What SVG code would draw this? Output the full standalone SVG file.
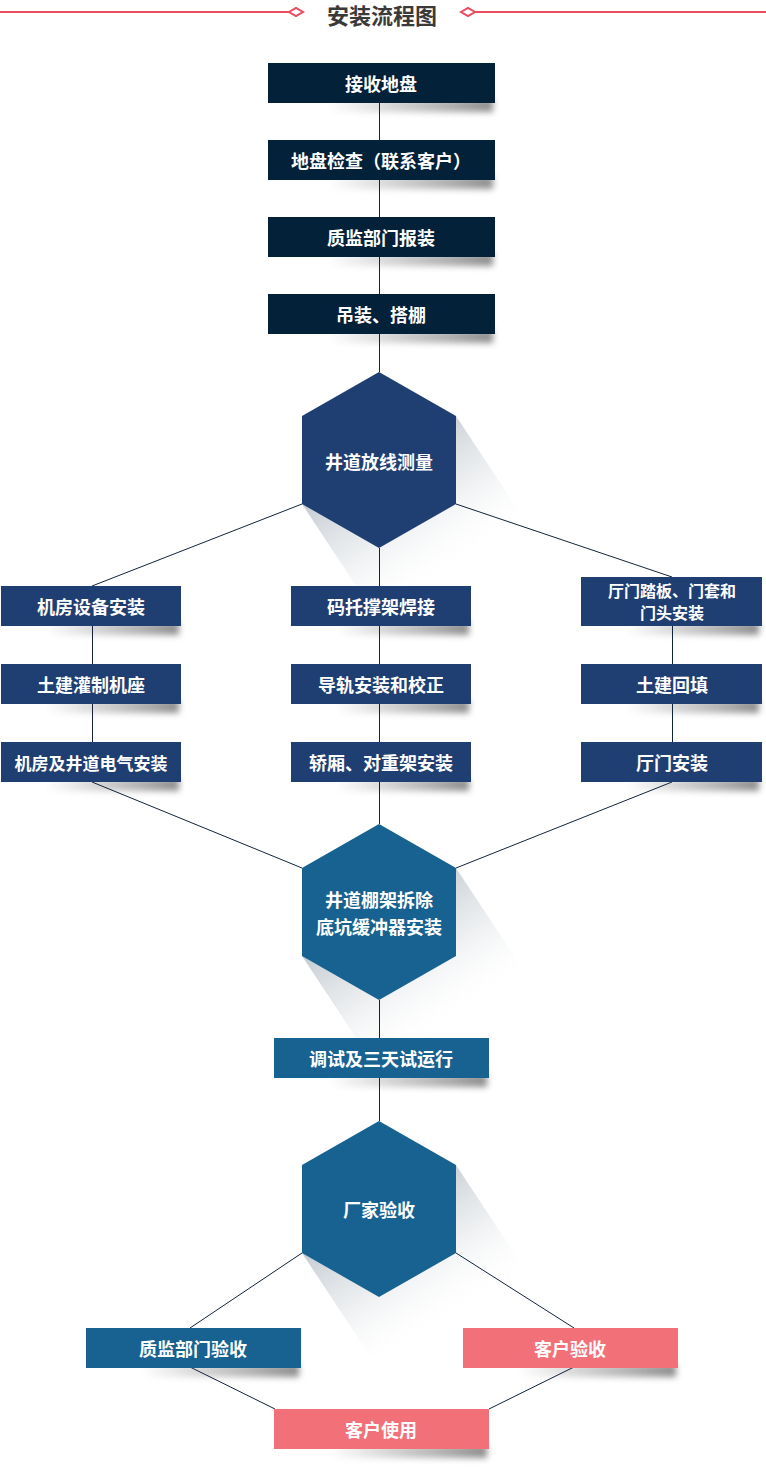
<svg xmlns="http://www.w3.org/2000/svg" xmlns:xlink="http://www.w3.org/1999/xlink" width="766" height="1469" viewBox="0 0 766 1469">
<style>
.t{font-family:"Noto Sans CJK SC","Noto Sans",sans-serif;font-weight:bold;fill:#fff;text-anchor:middle;dominant-baseline:central}
.f18{font-size:18px}.f17{font-size:17px}.f16{font-size:16px}
.dk{fill:#04213a}.nv{fill:#1f3e72}.bl{fill:#176290}.pk{fill:#f27179}
.ln{stroke:#13243a;stroke-width:1;fill:none}
.hd{stroke:#ea4b5e;stroke-width:2;fill:#fff}
</style>
<defs>
<linearGradient id="shg" x1="0" y1="0" x2="1" y2="0">
<stop offset="0" stop-color="#000" stop-opacity="0"/>
<stop offset="0.7" stop-color="#000" stop-opacity="0.3"/>
<stop offset="1" stop-color="#000" stop-opacity="0.45"/>
</linearGradient>
<filter id="blur" x="-20%" y="-80%" width="140%" height="260%"><feGaussianBlur stdDeviation="3"/></filter>
<linearGradient id="hsg" gradientUnits="userSpaceOnUse" x1="37" y1="56" x2="115" y2="174">
<stop offset="0" stop-color="#b4bdc6" stop-opacity="0.8"/>
<stop offset="0.5" stop-color="#d5dade" stop-opacity="0.45"/>
<stop offset="1" stop-color="#ffffff" stop-opacity="0"/>
</linearGradient>
<rect id="s227" x="60" y="36" width="165" height="13" fill="url(#shg)" filter="url(#blur)"/>
<rect id="s180" x="45" y="36" width="133" height="13" fill="url(#shg)" filter="url(#blur)"/>
<rect id="s215" x="55" y="36" width="158" height="13" fill="url(#shg)" filter="url(#blur)"/>
<polygon id="hexshape" points="0,0 77,44 77,132 0,176 -77,132 -77,44"/>
<polygon id="hexshadow" points="77,44 147,150 147,238 70,282 -7,238 -77,132" fill="url(#hsg)"/>
</defs>

<g id="header">
<line x1="0" y1="12" x2="289" y2="12" stroke="#ea4b5e" stroke-width="2"/>
<polygon class="hd" points="289,12 296,8 303,12 296,16"/>
<line x1="475" y1="12" x2="766" y2="12" stroke="#ea4b5e" stroke-width="2"/>
<polygon class="hd" points="461,12 468,8 475,12 468,16"/>
<text x="382" y="14" style="font-family:'Noto Sans CJK SC','Noto Sans',sans-serif;font-weight:bold;font-size:22px;fill:#3a3a3a;text-anchor:middle;dominant-baseline:central">安装流程图</text>
</g>

<g id="shadows">
<use xlink:href="#s227" x="268" y="63"/>
<use xlink:href="#s227" x="268" y="140"/>
<use xlink:href="#s227" x="268" y="217"/>
<use xlink:href="#s227" x="268" y="294"/>
<use xlink:href="#s180" x="1" y="586"/>
<use xlink:href="#s180" x="1" y="664"/>
<use xlink:href="#s180" x="1" y="742"/>
<use xlink:href="#s180" x="291" y="586"/>
<use xlink:href="#s180" x="291" y="664"/>
<use xlink:href="#s180" x="291" y="742"/>
<use xlink:href="#s180" x="581" y="586"/>
<use xlink:href="#s180" x="581" y="664"/>
<use xlink:href="#s180" x="581" y="742"/>
<use xlink:href="#s215" x="274" y="1038"/>
<use xlink:href="#s215" x="86" y="1328"/>
<use xlink:href="#s215" x="463" y="1328"/>
<use xlink:href="#s215" x="274" y="1409"/>
<use xlink:href="#hexshadow" x="379" y="372"/>
<use xlink:href="#hexshadow" x="379" y="824"/>
<use xlink:href="#hexshadow" x="379" y="1121"/>
</g>

<g id="connectors">
<line class="ln" x1="379.5" y1="102" x2="379.5" y2="372"/>
<line class="ln" x1="379.5" y1="548" x2="379.5" y2="824"/>
<line class="ln" x1="379.5" y1="1000" x2="379.5" y2="1121"/>
<line class="ln" x1="92.5" y1="626" x2="92.5" y2="742"/>
<line class="ln" x1="672.5" y1="626" x2="672.5" y2="742"/>
<line class="ln" x1="302" y1="504" x2="92" y2="586"/>
<line class="ln" x1="456" y1="504" x2="672" y2="577"/>
<line class="ln" x1="92" y1="782" x2="302" y2="868"/>
<line class="ln" x1="672" y1="782" x2="456" y2="868"/>
<line class="ln" x1="302" y1="1253" x2="190" y2="1328"/>
<line class="ln" x1="456" y1="1253" x2="574" y2="1328"/>
<line class="ln" x1="190" y1="1367" x2="275" y2="1409"/>
<line class="ln" x1="574" y1="1367" x2="489" y2="1409"/>
</g>

<g id="n1"><rect class="dk" x="268" y="63" width="227" height="40"/><text class="t f18" x="381" y="83">接收地盘</text></g>
<g id="n2"><rect class="dk" x="268" y="140" width="227" height="40"/><text class="t f18" x="381" y="160">地盘检查（联系客户）</text></g>
<g id="n3"><rect class="dk" x="268" y="217" width="227" height="40"/><text class="t f18" x="381" y="237">质监部门报装</text></g>
<g id="n4"><rect class="dk" x="268" y="294" width="227" height="40"/><text class="t f18" x="381" y="314">吊装、搭棚</text></g>

<g id="hex1"><use xlink:href="#hexshape" x="379" y="372" class="nv"/><text class="t f18" x="379" y="461">井道放线测量</text></g>

<g id="l1"><rect class="nv" x="1" y="586" width="180" height="40"/><text class="t f18" x="91" y="606">机房设备安装</text></g>
<g id="l2"><rect class="nv" x="1" y="664" width="180" height="40"/><text class="t f18" x="91" y="684">土建灌制机座</text></g>
<g id="l3"><rect class="nv" x="1" y="742" width="180" height="40"/><text class="t f17" x="91" y="762">机房及井道电气安装</text></g>

<g id="c1"><rect class="nv" x="291" y="586" width="180" height="40"/><text class="t f18" x="381" y="606">码托撑架焊接</text></g>
<g id="c2"><rect class="nv" x="291" y="664" width="180" height="40"/><text class="t f18" x="381" y="684">导轨安装和校正</text></g>
<g id="c3"><rect class="nv" x="291" y="742" width="180" height="40"/><text class="t f18" x="381" y="762">轿厢、对重架安装</text></g>

<g id="r1"><rect class="nv" x="581" y="577" width="181" height="49"/><text class="t f16" x="672" y="590">厅门踏板、门套和</text><text class="t f16" x="672" y="612">门头安装</text></g>
<g id="r2"><rect class="nv" x="581" y="664" width="181" height="40"/><text class="t f18" x="672" y="684">土建回填</text></g>
<g id="r3"><rect class="nv" x="581" y="742" width="181" height="40"/><text class="t f18" x="672" y="762">厅门安装</text></g>

<g id="hex2"><use xlink:href="#hexshape" x="379" y="824" class="bl"/><text class="t f18" x="379" y="899">井道棚架拆除</text><text class="t f18" x="379" y="926">底坑缓冲器安装</text></g>

<g id="n5"><rect class="bl" x="274" y="1038" width="215" height="40"/><text class="t f18" x="381" y="1058">调试及三天试运行</text></g>

<g id="hex3"><use xlink:href="#hexshape" x="379" y="1121" class="bl"/><text class="t f18" x="379" y="1209">厂家验收</text></g>

<g id="b1"><rect class="bl" x="86" y="1328" width="215" height="40"/><text class="t f18" x="193" y="1348">质监部门验收</text></g>
<g id="b2"><rect class="pk" x="463" y="1328" width="215" height="40"/><text class="t f18" x="570" y="1348">客户验收</text></g>
<g id="b3"><rect class="pk" x="274" y="1409" width="215" height="40"/><text class="t f18" x="381" y="1429">客户使用</text></g>
</svg>
